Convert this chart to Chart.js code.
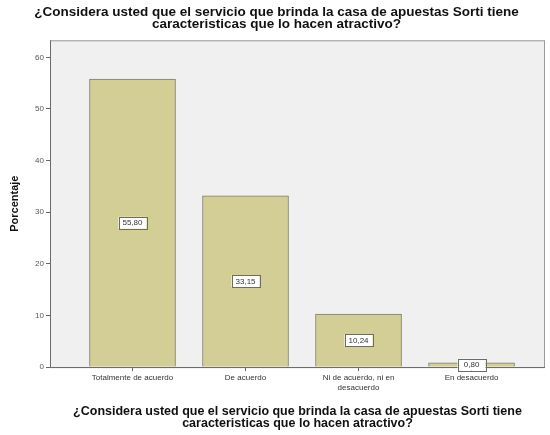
<!DOCTYPE html>
<html>
<head>
<meta charset="utf-8">
<script src="https://cdn.jsdelivr.net/npm/chart.js@4/dist/chart.umd.min.js"></script>
<style>
  html, body { margin: 0; padding: 0; background: #fff; }
  #wrap { width: 550px; height: 435px; }
</style>
</head>
<body>
<div id="wrap"><canvas id="grafico"></canvas></div>
<script>
// datos
const categorias = ['Totalmente de acuerdo', 'De acuerdo', ['Ni de acuerdo, ni en', 'desacuerdo'], 'En desacuerdo'];
const porcentajes = [55.80, 33.15, 10.24, 0.80];
const etiquetas = ['55,80', '33,15', '10,24', '0,80'];
const titulo = ['¿Considera usted que el servicio que brinda la casa de apuestas Sorti tiene', 'caracteristicas que lo hacen atractivo?'];

Chart.defaults.font.family = '"Liberation Sans", Arial, sans-serif';

// fondo gris y marco del area del grafico
const marco = {
    id: 'marco',
    beforeDatasetsDraw(chart) {
        const { ctx, chartArea: a } = chart;
        ctx.save();
        ctx.fillStyle = '#f0f0f1';
        ctx.fillRect(a.left, a.top, a.right - a.left, a.bottom - a.top);
        ctx.restore();
    },
    afterDatasetsDraw(chart) {
        const { ctx, chartArea: a } = chart;
        ctx.save();
        ctx.strokeStyle = '#9a9a9a';
        ctx.lineWidth = 1;
        ctx.strokeRect(a.left + 0.5, a.top + 0.5, a.right - a.left - 1, a.bottom - a.top);
        ctx.strokeStyle = '#6a6a6a';
        ctx.beginPath();
        ctx.moveTo(a.left + 0.5, a.top);
        ctx.lineTo(a.left + 0.5, a.bottom + 0.5);
        ctx.lineTo(a.right, a.bottom + 0.5);
        ctx.stroke();
        ctx.restore();
    }
};

// cajas con el valor en el centro de cada barra
const valores = {
    id: 'valores',
    afterDraw(chart) {
        const { ctx } = chart;
        const meta = chart.getDatasetMeta(0);
        ctx.save();
        ctx.font = '8px "Liberation Sans", Arial, sans-serif';
        ctx.textAlign = 'center';
        ctx.textBaseline = 'middle';
        meta.data.forEach((bar, i) => {
            const cy = (bar.y + bar.base) / 2;
            const w = 28, h = 12;
            ctx.fillStyle = '#ffffff';
            ctx.fillRect(bar.x - w / 2, cy - h / 2, w, h);
            ctx.strokeStyle = '#6d6d5e';
            ctx.lineWidth = 1;
            ctx.strokeRect(Math.round(bar.x - w / 2) + 0.5, Math.round(cy - h / 2) + 0.5, w, h);
            ctx.fillStyle = '#333';
            ctx.fillText(etiquetas[i], bar.x, cy + 0.5);
        });
        ctx.restore();
    }
};

new Chart(document.getElementById('grafico'), {
    type: 'bar',
    data: {
        datasets: [{
            data: porcentajes.map((v, i) => ({ x: i, y: v })),
            backgroundColor: '#d3ce96',
            borderColor: '#7e7d68',
            borderWidth: 1,
            barThickness: 86
        }]
    },
    options: {
        responsive: true,
        maintainAspectRatio: false,
        animation: false,
        layout: { padding: { left: 8, right: 5, top: 0, bottom: 6 } },
        plugins: {
            legend: { display: false },
            tooltip: { enabled: false },
            title: {
                display: true,
                text: titulo,
                color: '#111',
                font: { size: 13.5, weight: 'bold', lineHeight: 0.9 },
                padding: { top: 6, bottom: 10 }
            }
        },
        scales: {
            x: {
                type: 'linear',
                offset: false,
                min: -0.73,
                max: 3.65,
                afterBuildTicks: scale => {
                    scale.ticks = categorias.map((c, i) => ({ value: i }));
                },
                ticks: {
                    callback: v => categorias[v],
                    color: '#333',
                    font: { size: 8 },
                    padding: 2,
                    maxRotation: 0,
                    autoSkip: false
                },
                grid: { offset: false, drawOnChartArea: false, tickLength: 4, color: '#666' },
                border: { display: false },
                title: {
                    display: true,
                    text: titulo,
                    color: '#111',
                    font: { size: 12.5, weight: 'bold', lineHeight: 0.95 },
                    padding: { top: 11, bottom: 0 }
                }
            },
            y: {
                min: 0,
                max: 63.3,
                afterFit: scale => { scale.width = 42; },
                ticks: {
                    stepSize: 10,
                    includeBounds: false,
                    color: '#555',
                    font: { size: 8 },
                    padding: 2
                },
                grid: { drawOnChartArea: false, tickLength: 4, color: '#666' },
                border: { display: false },
                title: {
                    display: true,
                    text: 'Porcentaje',
                    color: '#111',
                    font: { size: 11, weight: 'bold' },
                    padding: 0
                }
            }
        }
    },
    plugins: [marco, valores]
});
</script>
</body>
</html>
